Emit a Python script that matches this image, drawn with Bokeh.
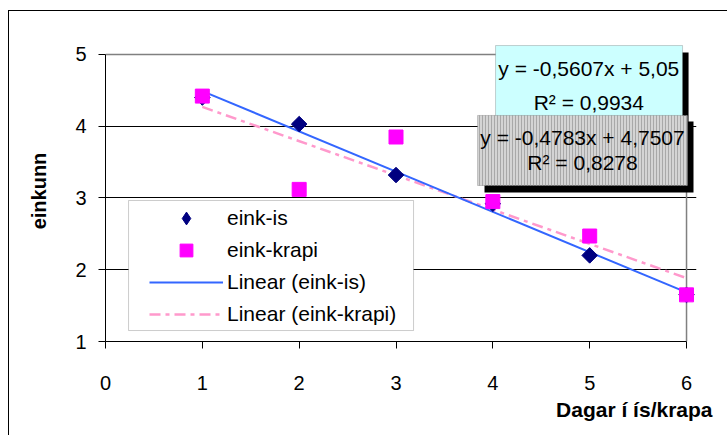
import numpy as np
from bokeh.plotting import figure
from bokeh.models import Range1d, FixedTicker, Legend, LegendItem, BoxAnnotation, Label, Title
from bokeh.embed import file_html
from bokeh.resources import INLINE

# ---- data ----
days = [1, 2, 3, 4, 5, 6]
eink_is = [4.40, 4.03, 3.32, 2.92, 2.20, 1.65]
eink_krapi = [4.42, 3.12, 3.85, 2.95, 2.47, 1.65]
x_ticks = [0, 1, 2, 3, 4, 5, 6]
y_ticks = [1, 2, 3, 4, 5]
eq_is = ["y = -0,5607x + 5,05", "R² = 0,9934"]
eq_krapi = ["y = -0,4783x + 4,7507", "R² = 0,8278"]
series_names = ["eink-is", "eink-krapi", "Linear (eink-is)", "Linear (eink-krapi)"]
x_title = "Dagar í ís/krapa"
y_title = "einkunn"

FONT = "Liberation Sans"

# the frame is a little larger than the axis range so the equation boxes are not clipped
p = figure(width=719, height=425, x_range=Range1d(0, 6.103), y_range=Range1d(1, 5.195),
           output_backend="svg", toolbar_location=None,
           min_border_left=96, min_border_top=29, min_border_right=32, min_border_bottom=95,
           margin=(10, 0, 0, 8))
p.styles = {"border-left": "1px solid black", "border-top": "1px solid black"}
p.background_fill_color = "white"
p.border_fill_color = "white"
p.outline_line_color = None

# axes
for ax in (p.xaxis[0], p.yaxis[0]):
    ax.axis_line_color = "black"
    ax.major_tick_line_color = "black"
    ax.major_tick_in = 0
    ax.major_tick_out = 7
    ax.minor_tick_line_color = None
    ax.major_label_text_font = FONT
    ax.major_label_text_font_size = "20px"
    ax.major_label_text_color = "black"
p.xaxis.ticker = FixedTicker(ticks=x_ticks)
p.yaxis.ticker = FixedTicker(ticks=y_ticks)
p.xaxis.bounds = (x_ticks[0], x_ticks[-1])
p.yaxis.bounds = (y_ticks[0], y_ticks[-1])
p.xaxis.major_label_standoff = 27
p.yaxis.major_label_standoff = 12
p.yaxis.axis_label = y_title
p.yaxis.axis_label_text_font = FONT
p.yaxis.axis_label_text_font_style = "bold"
p.yaxis.axis_label_text_font_size = "20px"
p.yaxis.axis_label_text_color = "black"
p.yaxis.axis_label_standoff = 22

p.xgrid.visible = False
p.ygrid.ticker = FixedTicker(ticks=y_ticks[1:-1])
p.ygrid.grid_line_color = "black"
p.ygrid.grid_line_width = 1

# grey plot-area border at top and right
p.segment(x0=[x_ticks[0], x_ticks[-1]], y0=[y_ticks[-1], y_ticks[0]],
          x1=[x_ticks[-1], x_ticks[-1]], y1=[y_ticks[-1], y_ticks[-1]],
          line_color="#808080", line_width=1.5)

# trend lines computed from data
x = np.array(days, dtype=float)
s1, b1 = np.polyfit(x, np.array(eink_is), 1)
s2, b2 = np.polyfit(x, np.array(eink_krapi), 1)
xt = [min(days), max(days)]
r_lin2 = p.line(xt, [s2 * v + b2 for v in xt], line_color="#ff99cc", line_width=2.5, line_dash="11 5 4 5")
r_lin1 = p.line(xt, [s1 * v + b1 for v in xt], line_color="#3366ff", line_width=2)

# diamond swatch for the legend (legend glyphs ignore marker angle); hidden under the real markers
r_is_leg = p.scatter(days, eink_is, marker="diamond", size=6,
                     fill_color="#000080", line_color="#000080")
r_is = p.scatter(days, eink_is, marker="square", angle=np.pi / 4, size=11,
                 fill_color="#000080", line_color="#000080")
r_kr = p.scatter(days, eink_krapi, marker="square", size=14,
                 fill_color="#ff00ff", line_color="#ff00ff")

# legend box (white with grey border)
p.add_layout(BoxAnnotation(left=0.238, right=3.181, top=2.965, bottom=1.153,
                           fill_color="white", fill_alpha=1, line_color="#555555", line_width=1))
legend = Legend(items=[LegendItem(label=series_names[0], renderers=[r_is_leg]),
                       LegendItem(label=series_names[1], renderers=[r_kr]),
                       LegendItem(label=series_names[2], renderers=[r_lin1]),
                       LegendItem(label=series_names[3], renderers=[r_lin2])],
                location=(42, 9), padding=2, margin=0, spacing=0,
                label_height=32, glyph_height=32, glyph_width=74, label_standoff=4,
                border_line_alpha=0, background_fill_alpha=0,
                label_text_font=FONT, label_text_font_size="21px", label_text_color="black")
p.add_layout(legend, "center")

# equation boxes
p.add_layout(BoxAnnotation(left=4.09, right=6.021, top=5.028, bottom=4.052,
                           fill_color="black", fill_alpha=1, line_alpha=0))
p.add_layout(BoxAnnotation(left=4.028, right=5.959, top=5.125, bottom=4.136,
                           fill_color="#ccffff", fill_alpha=1, line_color="#606060", line_width=1))
p.add_layout(BoxAnnotation(left=3.914, right=6.072, top=4.066, bottom=3.077,
                           fill_color="black", fill_alpha=1, line_alpha=0))
p.add_layout(BoxAnnotation(left=3.842, right=6.010, top=4.150, bottom=3.174,
                           fill_color="#d4d4d4", fill_alpha=1, line_color="#606060", line_width=1,
                           hatch_pattern="vertical_line", hatch_color="#a8a8a8",
                           hatch_scale=3, hatch_weight=1))

for (cx, cy, txt) in [(4.991, 4.805, eq_is[0]), (4.991, 4.331, eq_is[1]),
                      (4.926, 3.843, eq_krapi[0]), (4.926, 3.495, eq_krapi[1])]:
    p.add_layout(Label(x=cx, y=cy, text=txt, text_align="center", text_baseline="middle",
                       text_font=FONT, text_font_size="21px", text_color="black"))

# x axis title, right-aligned below the axis
p.add_layout(Title(text=x_title, align="right", offset=-16, standoff=6,
                   text_font=FONT, text_font_style="bold", text_font_size="21px",
                   text_color="black"), "below")

open("out.html", "w").write(file_html(p, INLINE))
